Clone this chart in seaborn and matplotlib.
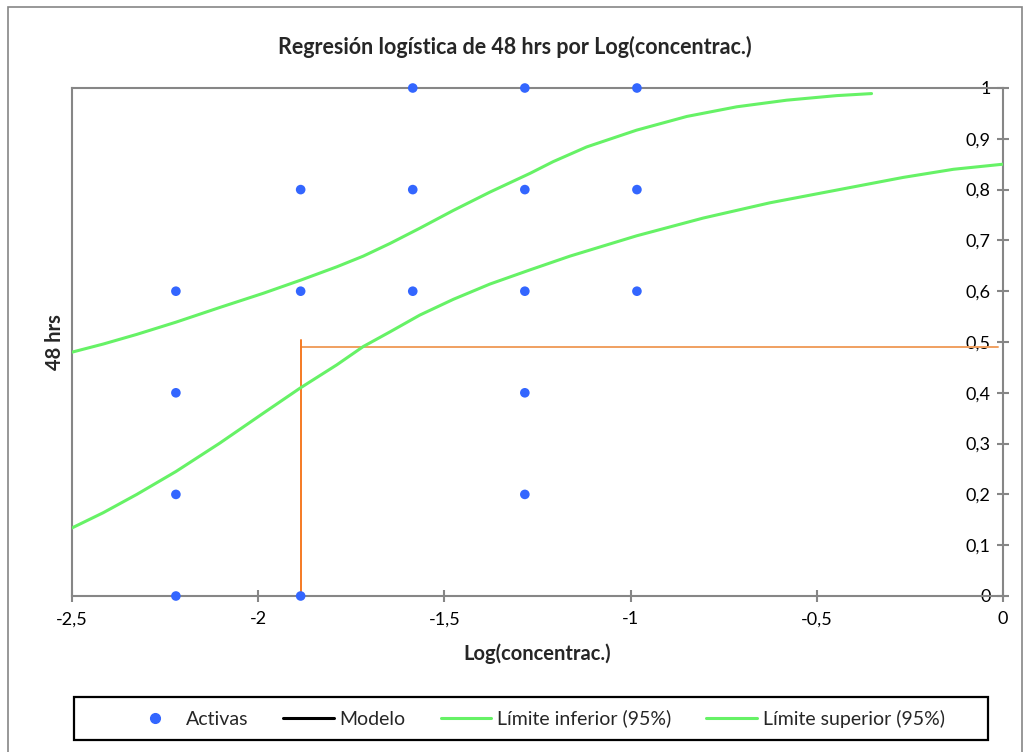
import matplotlib
matplotlib.use("Agg")
import matplotlib.pyplot as plt
import seaborn as sns
import pandas as pd
from matplotlib.lines import Line2D
from matplotlib.patches import Rectangle

# ---- data ----
act_x = [-2.221, -2.221, -2.221, -2.221,
         -1.886, -1.886, -1.886,
         -1.585, -1.585, -1.585,
         -1.284, -1.284, -1.284, -1.284, -1.284,
         -0.983, -0.983, -0.983]
act_y = [0.6, 0.4, 0.2, 0.0,
         0.8, 0.6, 0.0,
         1.0, 0.8, 0.6,
         1.0, 0.8, 0.6, 0.4, 0.2,
         1.0, 0.8, 0.6]

upper_x = [-2.500, -2.416, -2.326, -2.221, -2.103, -1.986, -1.885, -1.789, -1.718,
           -1.646, -1.566, -1.476, -1.378, -1.270, -1.208, -1.118, -0.984, -0.849,
           -0.715, -0.581, -0.447, -0.353]
upper_y = [0.480, 0.496, 0.515, 0.539, 0.568, 0.596, 0.622, 0.648, 0.669,
           0.694, 0.724, 0.759, 0.795, 0.832, 0.855, 0.884, 0.917, 0.944,
           0.963, 0.976, 0.985, 0.989]

lower_x = [-2.500, -2.416, -2.326, -2.221, -2.103, -1.986, -1.888, -1.789, -1.718,
           -1.646, -1.566, -1.476, -1.378, -1.270, -1.163, -0.984, -0.805, -0.626,
           -0.447, -0.268, -0.133, 0.000]
lower_y = [0.134, 0.164, 0.200, 0.245, 0.301, 0.360, 0.409, 0.455, 0.491,
           0.520, 0.553, 0.584, 0.614, 0.642, 0.669, 0.709, 0.744, 0.774,
           0.799, 0.824, 0.840, 0.850]

vline_x = [-1.886, -1.886]
vline_y = [0.0, 0.504]
hline_x = [-1.886, -0.013]
hline_y = [0.491, 0.491]

xticks = [-2.5, -2.0, -1.5, -1.0, -0.5, 0.0]
xtick_labels = ["-2,5", "-2", "-1,5", "-1", "-0,5", "0"]
yticks = [0, 0.1, 0.2, 0.3, 0.4, 0.5, 0.6, 0.7, 0.8, 0.9, 1.0]
ytick_labels = ["0", "0,1", "0,2", "0,3", "0,4", "0,5", "0,6", "0,7", "0,8", "0,9", "1"]

title = "Regresión logística de 48 hrs por Log(concentrac.)"
xlabel = "Log(concentrac.)"
ylabel = "48 hrs"
legend_labels = ["Activas", "Modelo", "Límite inferior (95%)", "Límite superior (95%)"]

# ---- style ----
sns.set_theme(style="white")
plt.rcParams["font.family"] = ["Lato", "DejaVu Sans"]

BLUE = "#3366FF"
GREEN = "#66F266"
GRAY = "#868686"

W, H = 1030, 752
fig = plt.figure(figsize=(W/100, H/100), dpi=100)
ax = fig.add_axes([72/W, 1-596/H, (1003-72)/W, (596-88)/H])

df_act = pd.DataFrame({"x": act_x, "y": act_y})
df_low = pd.DataFrame({"x": lower_x, "y": lower_y})
df_up = pd.DataFrame({"x": upper_x, "y": upper_y})

sns.lineplot(data=df_low, x="x", y="y", ax=ax, color=GREEN, linewidth=2.2, sort=False, zorder=3)
sns.lineplot(data=df_up, x="x", y="y", ax=ax, color=GREEN, linewidth=2.2, sort=False, zorder=3)
ax.plot(hline_x, hline_y, color="#F0A060", linewidth=1.4, zorder=2)
ax.plot(vline_x, vline_y, color="#F57A24", linewidth=1.4, zorder=2)
sns.scatterplot(data=df_act, x="x", y="y", ax=ax, color=BLUE, s=48, edgecolor="none",
                zorder=5, clip_on=False)

ax.set_xlim(-2.5, 0)
ax.set_ylim(0, 1)

# spines: value axis at x=0 (right side), frame elsewhere
ax.spines["left"].set_position(("data", 0))
ax.spines["right"].set_position(("axes", 0))
for s in ax.spines.values():
    s.set_color(GRAY)
    s.set_linewidth(1.5)
    s.set_visible(True)

ax.yaxis.set_ticks_position("left")
ax.xaxis.set_ticks_position("bottom")
ax.set_xticks(xticks)
ax.set_xticklabels(xtick_labels)
ax.set_yticks(yticks)
ax.set_yticklabels(ytick_labels)
ax.tick_params(axis="both", direction="inout", length=8, width=1.5, color=GRAY,
               labelsize=13, labelcolor="black")
ax.tick_params(axis="y", pad=5)
ax.tick_params(axis="x", pad=7)

ax.set_xlabel("")
ax.set_ylabel("")
fig.text(537/W, 1-654/H, xlabel, ha="center", va="center", fontsize=14.5, fontweight="bold")
fig.text(55/W, 1-342/H, ylabel, rotation=90, ha="center", va="center",
         fontsize=14.5, fontweight="bold")
fig.text(0.5, 1-47/H, title, ha="center", va="center", fontsize=15.5, fontweight="bold")

# legend
handles = [
    Line2D([], [], marker="o", linestyle="none", color=BLUE, markersize=7),
    Line2D([], [], color="black", linewidth=2.2),
    Line2D([], [], color=GREEN, linewidth=2.2),
    Line2D([], [], color=GREEN, linewidth=2.2),
]
fig.patches.append(Rectangle((74/W, 1-740/H), (988-74)/W, 43/H, transform=fig.transFigure,
                             fill=False, edgecolor="black", linewidth=1.6))
leg = fig.legend(handles, legend_labels, loc="center",
                 bbox_to_anchor=(537/W, 1-718.5/H),
                 ncol=4, fontsize=14, frameon=False,
                 handlelength=2.6, handletextpad=0.3, columnspacing=1.8)

# outer chart border
fig.patches.append(Rectangle((8/W, -0.01), 1014/W, 1.01 - 7/H,
                             transform=fig.transFigure, fill=False,
                             edgecolor=GRAY, linewidth=1.2))

fig.savefig("out.png", dpi=100)
